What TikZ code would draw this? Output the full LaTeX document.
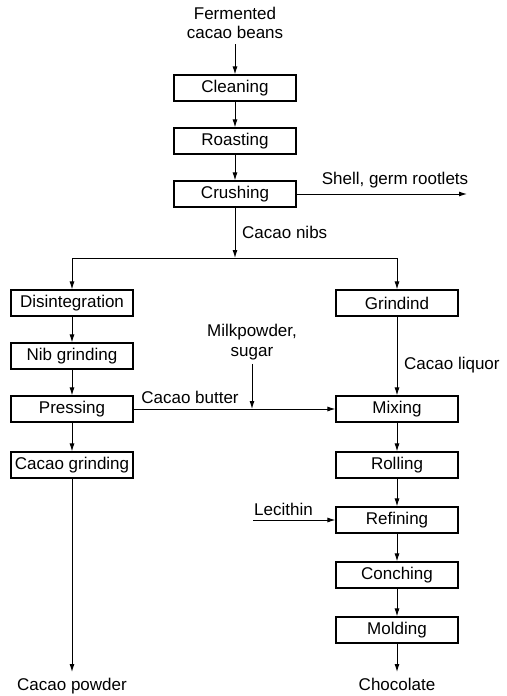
\documentclass[tikz,border=0pt]{standalone}
\usepackage{fontspec}
\setmainfont{Liberation Sans}
\usetikzlibrary{positioning,arrows.meta}

\begin{document}
\begin{tikzpicture}[
  x=1pt, y=-1pt,
  font=\fontsize{17}{19.5}\selectfont,
  stepbox/.style={rectangle, draw=black, line width=1.1pt, minimum height=26pt, minimum width=122pt,
               inner sep=2pt, fill=white, align=center},
  lbl/.style={inner sep=1pt, align=center},
  arr/.style={-{Latex[length=8pt, width=5pt]}, draw=black, line width=1pt}
]
\useasboundingbox (0,0) rectangle (506,696);

% main line
\node[lbl, inner ysep=5pt] (beans) at (235,23) {Fermented\\cacao beans};
\node[stepbox] (clean) at (235, 88) {Cleaning};
\node[stepbox] (roast) at (235,141) {Roasting};
\node[stepbox] (crush) at (235,194) {Crushing};
\coordinate (shell) at (467,194);
\coordinate (split) at (235,258);

% cacao powder branch
\node[stepbox] (disint) at (72,303) {Disintegration};
\node[stepbox] (nib)    at (72,356) {Nib grinding};
\node[stepbox] (press)  at (72,409) {Pressing};
\node[stepbox] (cgrind) at (72,465) {Cacao grinding};
\node[lbl, anchor=north, inner ysep=6pt] (powder) at (72,672) {Cacao powder};

% chocolate branch
\node[stepbox] (grind)  at (397,303) {Grindind};
\node[stepbox] (mix)    at (397,409) {Mixing};
\node[stepbox] (roll)   at (397,465) {Rolling};
\node[stepbox] (refine) at (397,520) {Refining};
\node[stepbox] (conch)  at (397,575) {Conching};
\node[stepbox] (mold)   at (397,630) {Molding};
\node[lbl, anchor=north, inner ysep=6pt] (choc) at (397,672) {Chocolate};

% additions
\node[lbl, inner ysep=4pt] (milk) at (252,342) {Milkpowder,\\sugar};
\coordinate (join) at (252,409);
\coordinate (lec) at (253,520);

% labels
\node[lbl, anchor=south] at (395,189) {Shell, germ rootlets};
\node[lbl, anchor=west] at (241,232) {Cacao nibs};
\node[lbl] at (190,397) {Cacao butter};
\node[lbl, anchor=west] at (403,365) {Cacao liquor};
\node[lbl, anchor=south west] at (lec) [yshift=3pt] {Lecithin};

\draw[arr] (beans) -- (clean);
\draw[arr] (clean) -- (roast);
\draw[arr] (roast) -- (crush);
\draw[arr] (crush) -- (shell);
\draw[arr] (crush) -- (split);
\draw[arr] (split) -| (disint);
\draw[arr] (split) -| (grind);

\draw[arr] (disint) -- (nib);
\draw[arr] (nib) -- (press);
\draw[arr] (press) -- (cgrind);
\draw[arr] (cgrind) -- (powder);

\draw[arr] (grind) -- (mix);
\draw[arr] (press) -- (mix);
\draw[arr] (milk) -- (join);
\draw[arr] (mix) -- (roll);
\draw[arr] (roll) -- (refine);
\draw[arr] (lec) -- (refine);
\draw[arr] (refine) -- (conch);
\draw[arr] (conch) -- (mold);
\draw[arr] (mold) -- (choc);
\end{tikzpicture}
\end{document}
